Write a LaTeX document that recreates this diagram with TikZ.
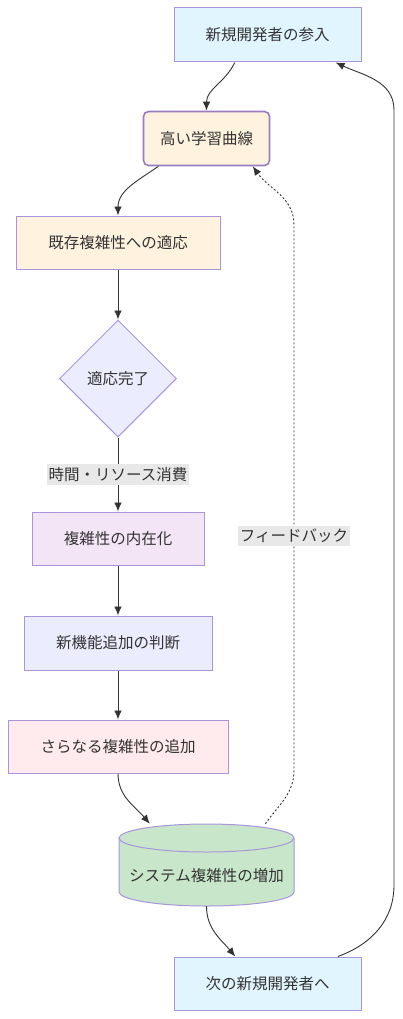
\documentclass[tikz,border=0pt]{standalone}
\usepackage{fontspec}
\setmainfont{Noto Sans CJK JP}
\usepackage{tikz}
\usetikzlibrary{arrows.meta,shapes.geometric}
\definecolor{ink}{HTML}{333333}
\definecolor{edgeline}{HTML}{333333}
\definecolor{boxline}{HTML}{A995DC}
\definecolor{hardline}{HTML}{9A7CC2}
\definecolor{newbie}{HTML}{E1F5FE}
\definecolor{adapt}{HTML}{FFF3E0}
\definecolor{decide}{HTML}{ECECFF}
\definecolor{inner}{HTML}{F3E5F5}
\definecolor{growth}{HTML}{FFEBEE}
\definecolor{store}{HTML}{C8E6C9}
\definecolor{lblbg}{HTML}{E8E8E8}

\begin{document}
\begin{tikzpicture}[x=1pt,y=1pt,
  every node/.style={font=\fontsize{15.5}{18}\selectfont, text=ink},
  box/.style={draw=boxline, line width=1pt, inner sep=0pt, minimum height=54pt},
  choice/.style={diamond, aspect=1, draw=boxline, line width=1pt, fill=decide, inner sep=0pt, minimum width=117pt, minimum height=117pt},
  lbl/.style={fill=lblbg, inner xsep=2pt, inner ysep=3pt},
  arr/.style={draw=edgeline, line width=0.9pt, -{Latex[length=9pt,width=7.5pt]}},
  fb/.style={arr, dash pattern=on 2pt off 2pt}]
  \useasboundingbox (0,0) rectangle (402,-1019);

  \node[box, fill=newbie, minimum width=187pt] (A) at (267.5,-35) {新規開発者の参入};
  \node[box, fill=adapt, minimum width=126pt, rounded corners=5pt, draw=hardline, line width=1.6pt] (B) at (206.5,-138.5) {高い学習曲線};
  \node[box, fill=adapt, minimum width=204pt, minimum height=53pt] (C) at (118,-242.5) {既存複雑性への適応};
  \node[choice] (D) at (118,-378.5) {適応完了};
  \node[box, fill=inner, minimum width=172pt, minimum height=53pt] (E) at (118,-538.5) {複雑性の内在化};
  \node[box, fill=decide, minimum width=188pt] (F) at (118,-643) {新機能追加の判断};
  \node[box, fill=growth, minimum width=220pt, minimum height=53pt] (G) at (118,-746.5) {さらなる複雑性の追加};

  \filldraw[fill=store, draw=boxline, line width=1pt]
    (119,-838) -- (119,-892) arc[start angle=180, end angle=360, x radius=87.5, y radius=14]
    -- (294,-838) arc[start angle=0, end angle=180, x radius=87.5, y radius=14] -- cycle;
  \draw[boxline, line width=1pt] (119,-838) arc[start angle=180, end angle=360, x radius=87.5, y radius=14];
  \node[inner sep=0pt, minimum width=175pt, text height=57pt, text depth=25pt] (H) at (206.5,-865) {システム複雑性の増加};

  \node[box, fill=newbie, minimum width=187pt, minimum height=53pt] (I) at (267.5,-983.5) {次の新規開発者へ};

  \coordinate (rb) at (394,-885);
  \coordinate (rt) at (394,-110);
  \coordinate (fbb) at (294,-770);
  \coordinate (fbt) at (294,-225);

  \path[every edge/.style={arr}]
  (A.220) edge[out=245, in=90] (B.north)
  (B.210) edge[out=215, in=90] (C.north)
  (C) edge (D)
  (D) edge node[lbl] {時間・リソース消費} (E)
  (E) edge (F)
  (F) edge (G)
  (G.south) edge[out=-90, in=130] (H.144)
  (H.south) edge[out=-90, in=130] (I.140)
  ;
  \draw[arr] (I.21) to[out=20, in=-90] (rb) -- (rt) to[out=90, in=-25] (A.-22);
  \draw[fb] (H.35) to[out=55, in=-90] (fbb) -- node[lbl, pos=.43] {フィードバック} (fbt) to[out=90, in=-55] (B.-31);
\end{tikzpicture}
\end{document}
